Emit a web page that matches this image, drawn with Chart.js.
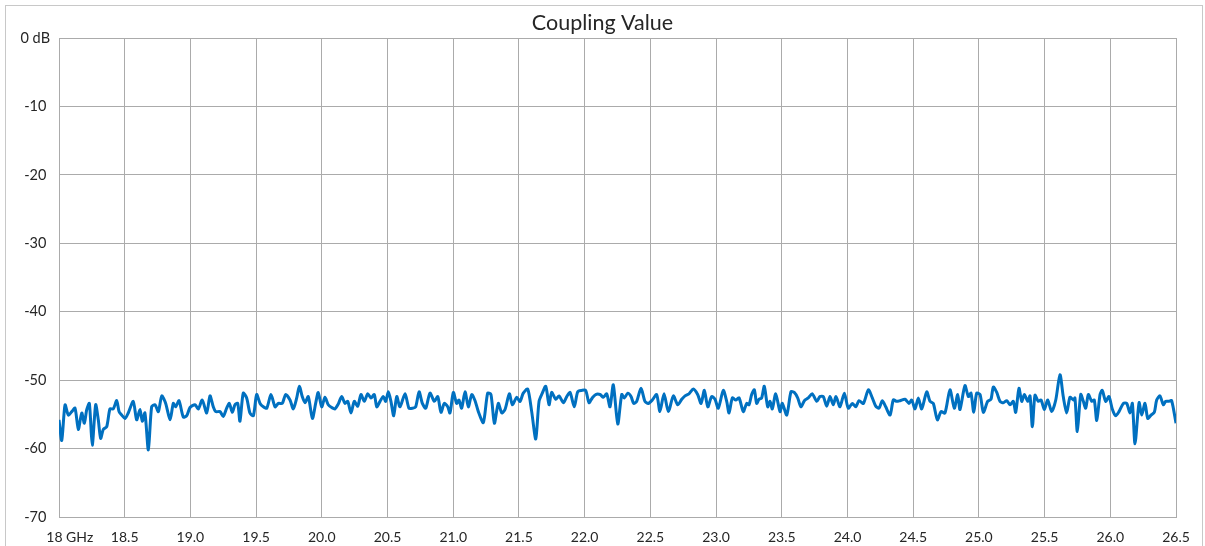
<!DOCTYPE html>
<html>
<head>
<meta charset="utf-8">
<script src="https://cdn.jsdelivr.net/npm/chart.js@4.4.1/dist/chart.umd.min.js"></script>
<style>
  html, body { margin: 0; padding: 0; background: #ffffff; }
  #wrap { position: relative; width: 1205px; height: 546px; overflow: hidden; }
  #frame { position: absolute; left: 5px; top: 5px; width: 1198px; height: 560px; border: 1px solid #c8c8c8; box-sizing: border-box; pointer-events: none; }
  canvas { position: absolute; left: 0; top: 0; }
</style>
</head>
<body>
<div id="wrap">
  <canvas id="c" width="1205" height="546"></canvas>
  <div id="frame"></div>
</div>
<script>
const chartTitle = "Coupling Value";
const xTickValues = [18, 18.5, 19, 19.5, 20, 20.5, 21, 21.5, 22, 22.5, 23, 23.5, 24, 24.5, 25, 25.5, 26, 26.5];
const yTickValues = [0, -10, -20, -30, -40, -50, -60, -70];

const freqGHz = [
18.000,18.021,18.046,18.071,18.097,18.122,18.147,18.173,18.193,18.211,18.231,18.253,18.279,18.299,18.317,18.337,18.363,18.388,18.413,18.439,18.457,18.477,18.502,18.527,18.565,18.591,18.616,18.634,18.654,18.680,18.705,18.731,18.756,18.782,18.812,18.845,18.870,18.888,18.913,18.946,18.972,18.997,19.035,19.060,
19.090,19.124,19.149,19.174,19.192,19.225,19.250,19.276,19.296,19.319,19.339,19.360,19.377,19.402,19.428,19.453,19.479,19.504,19.530,19.555,19.581,19.613,19.644,19.669,19.699,19.725,19.758,19.783,19.809,19.829,19.851,19.872,19.897,19.928,19.953,19.973,19.999,20.024,20.049,20.075,20.100,20.125,
20.151,20.176,20.197,20.222,20.247,20.273,20.298,20.323,20.349,20.374,20.399,20.418,20.443,20.468,20.486,20.506,20.526,20.547,20.570,20.595,20.633,20.663,20.689,20.714,20.740,20.765,20.791,20.823,20.856,20.882,20.907,20.932,20.958,20.975,21.001,21.026,21.044,21.064,21.090,21.115,21.141,21.166,21.191,
21.229,21.262,21.287,21.313,21.343,21.369,21.394,21.427,21.450,21.483,21.508,21.533,21.567,21.597,21.628,21.653,21.678,21.704,21.729,21.749,21.780,21.805,21.838,21.864,21.889,21.921,21.947,21.978,22.008,22.033,22.058,22.084,22.117,22.142,22.168,22.193,22.218,22.252,
22.282,22.302,22.328,22.353,22.373,22.396,22.429,22.459,22.484,22.515,22.548,22.573,22.604,22.637,22.675,22.708,22.739,22.764,22.794,22.827,22.860,22.886,22.911,22.937,22.967,22.992,23.017,23.055,23.081,23.099,23.124,23.150,23.175,23.207,23.233,23.251,23.271,23.291,23.309,23.327,
23.347,23.367,23.393,23.411,23.428,23.454,23.487,23.504,23.538,23.570,23.595,23.621,23.646,23.672,23.702,23.732,23.766,23.791,23.816,23.842,23.867,23.892,23.913,23.943,23.976,24.006,24.037,24.063,24.088,24.121,24.159,24.189,24.215,24.240,24.265,24.291,24.324,24.349,24.375,
24.400,24.438,24.468,24.489,24.514,24.539,24.565,24.603,24.628,24.653,24.684,24.712,24.742,24.780,24.813,24.839,24.856,24.894,24.920,24.940,24.961,24.983,25.009,25.034,25.067,25.092,25.110,25.136,25.161,25.186,25.212,25.237,25.262,25.280,25.305,25.326,25.346,25.372,25.389,25.407,25.427,25.452,
25.473,25.498,25.524,25.554,25.585,25.617,25.642,25.668,25.693,25.719,25.731,25.749,25.775,25.795,25.813,25.833,25.859,25.878,25.897,25.922,25.939,25.965,25.990,26.015,26.041,26.066,26.099,26.125,26.150,26.168,26.188,26.219,26.239,26.264,26.285,26.310,26.335,26.353,26.378,26.403,26.422,26.447,26.467,26.500
];

const couplingDb = [
-55.8,-58.8,-53.6,-55.1,-54.6,-54.1,-57.2,-54.8,-56.3,-54.3,-53.4,-59.5,-53.6,-55.8,-58.5,-57.2,-56.8,-54.2,-54.2,-53.0,-54.6,-55.1,-55.6,-54.8,-53.1,-55.8,-54.3,-56.0,-54.8,-60.2,-53.9,-53.6,-54.6,-52.3,-53.4,-55.8,-53.4,-53.9,-53.0,-55.4,-55.2,-54.0,-53.6,-54.2,
-52.9,-54.8,-52.3,-53.9,-54.6,-54.6,-55.3,-54.1,-53.4,-54.7,-53.6,-53.4,-56.0,-51.9,-52.6,-54.8,-55.2,-52.1,-53.4,-53.9,-54.1,-52.1,-53.9,-53.4,-53.4,-52.1,-52.9,-54.2,-52.6,-50.9,-52.4,-53.3,-52.4,-55.6,-53.4,-51.8,-53.9,-52.5,-53.6,-54.0,-54.2,-53.5,
-52.4,-53.4,-53.1,-54.8,-53.1,-53.8,-52.1,-53.1,-52.0,-52.6,-52.1,-53.9,-53.1,-52.4,-53.1,-51.7,-53.1,-55.2,-52.4,-53.9,-52.0,-54.1,-54.1,-53.9,-51.7,-53.4,-54.1,-51.9,-53.1,-52.4,-54.7,-53.4,-53.9,-54.8,-51.8,-53.4,-52.9,-54.1,-51.7,-53.9,-52.1,-53.0,-54.6,
-56.2,-51.9,-52.1,-56.3,-53.4,-54.8,-54.3,-52.0,-53.6,-52.5,-53.1,-51.9,-51.3,-54.6,-58.6,-53.1,-51.9,-50.9,-53.6,-51.8,-52.8,-52.3,-53.3,-52.4,-51.8,-53.9,-51.7,-51.5,-51.5,-53.3,-52.6,-52.1,-52.1,-52.5,-52.0,-53.9,-50.7,-56.4,
-52.1,-52.6,-51.9,-52.4,-53.4,-53.1,-51.2,-53.1,-53.4,-52.9,-52.1,-54.6,-52.0,-54.6,-52.3,-53.6,-52.8,-52.3,-52.0,-51.3,-52.1,-53.4,-51.5,-53.9,-52.4,-52.8,-54.1,-51.5,-53.1,-54.8,-52.6,-52.9,-52.6,-54.6,-53.4,-53.6,-52.1,-51.4,-53.4,-52.8,
-52.6,-50.9,-53.9,-53.1,-54.2,-52.0,-54.6,-53.4,-55.1,-51.7,-51.8,-52.6,-53.9,-53.0,-52.6,-52.0,-53.1,-52.4,-52.4,-53.8,-52.4,-53.6,-52.4,-53.9,-51.9,-54.1,-53.4,-53.9,-53.0,-53.4,-51.4,-52.6,-53.8,-54.1,-53.0,-53.9,-55.1,-52.9,-53.1,
-53.0,-52.8,-53.4,-52.9,-54.2,-52.6,-54.2,-51.7,-53.1,-53.4,-55.8,-54.6,-54.8,-51.4,-54.1,-52.1,-54.3,-50.8,-52.4,-51.9,-54.7,-51.9,-52.1,-54.7,-53.1,-52.8,-51.0,-51.8,-53.1,-53.3,-53.0,-53.6,-53.1,-54.7,-51.2,-53.1,-52.1,-53.1,-52.3,-56.8,-52.2,-53.1,
-52.9,-54.3,-52.9,-54.6,-52.9,-49.2,-52.4,-54.8,-52.5,-52.9,-52.6,-57.5,-52.1,-53.1,-54.1,-52.1,-53.1,-52.9,-55.9,-52.1,-51.5,-53.1,-52.4,-54.2,-55.2,-54.6,-53.4,-53.4,-54.8,-53.4,-59.3,-53.3,-55.1,-53.4,-55.6,-55.1,-54.7,-52.9,-52.3,-53.6,-53.1,-53.1,-53.0,-56.3
];

const points = freqGHz.map((f, i) => ({ x: f, y: couplingDb[i] }));

const FONT = "Lato, 'Open Sans', 'Liberation Sans', sans-serif";
const gridColor = "#ababab";

new Chart(document.getElementById('c'), {
  type: 'line',
  data: {
    datasets: [{
      label: chartTitle,
      data: points,
      borderColor: '#0070C0',
      backgroundColor: '#0070C0',
      borderWidth: 3,
      pointRadius: 0,
      tension: 0.25,
      fill: false
    }]
  },
  options: {
    responsive: false,
    animation: false,
    events: [],
    layout: { padding: 0 },
    plugins: {
      legend: { display: false },
      tooltip: { enabled: false },
      title: {
        display: true,
        text: chartTitle,
        color: '#262626',
        font: { family: FONT, size: 21.5, weight: 'normal', lineHeight: 1.1 },
        padding: { top: 11, bottom: 3.35 }
      }
    },
    scales: {
      x: {
        type: 'linear',
        min: 18,
        max: 26.5,
        afterBuildTicks: (scale) => { scale.ticks = xTickValues.map(v => ({ value: v })); },
        afterFit: (scale) => { scale.height = 29; scale.paddingRight = 29; },
        grid: { color: gridColor, lineWidth: 1, drawTicks: false },
        border: { color: gridColor, width: 1 },
        ticks: {
          color: '#262626',
          font: { family: FONT, size: 14 },
          padding: 12,
          maxRotation: 0,
          autoSkip: false,
          callback: (v) => v === 18 ? '      18 GHz' : Number(v).toFixed(1)
        }
      },
      y: {
        type: 'linear',
        min: -70,
        max: 0,
        afterBuildTicks: (scale) => { scale.ticks = yTickValues.map(v => ({ value: v })); },
        afterFit: (scale) => { scale.width = 59; },
        grid: { color: gridColor, lineWidth: 1, drawTicks: false },
        border: { color: gridColor, width: 1 },
        ticks: {
          color: '#262626',
          font: { family: FONT, size: 14.5 },
          padding: 9,
          crossAlign: 'center',
          callback: (v) => v === 0 ? '0 dB' : String(v)
        }
      }
    }
  }
});
</script>
</body>
</html>
